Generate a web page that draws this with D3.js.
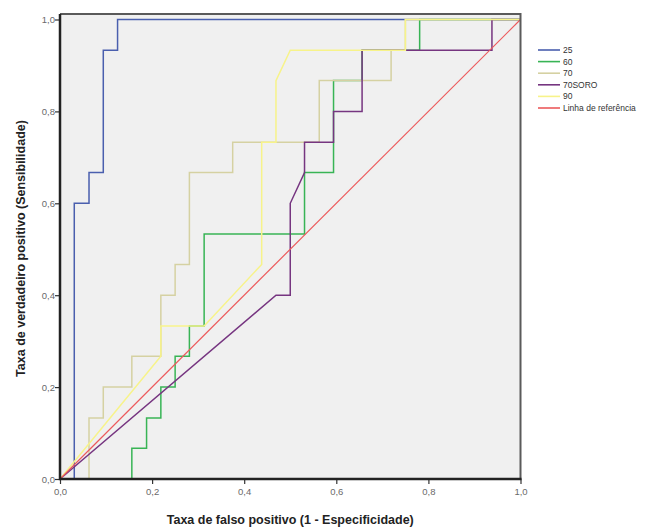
<!DOCTYPE html>
<html>
<head>
<meta charset="utf-8">
<script src="https://cdn.jsdelivr.net/npm/d3@7"></script>
<style>
  html, body { margin: 0; padding: 0; background: #ffffff; }
  svg { display: block; }
</style>
</head>
<body>
<svg id="chart" width="667" height="531"></svg>
<script>
// ROC curves: false positive rate (1 - especificidade) vs true positive rate (sensibilidade)
const seriesNames = ["25", "60", "70", "70SORO", "90", "Linha de referência"];
const seriesColors = ["#4a5fae", "#38b455", "#d5d1a2", "#763580", "#f7f38a", "#ec5a5c"];

const fpr25 = [0, 0.031, 0.031, 0.063, 0.063, 0.094, 0.094, 0.125, 0.125, 1];
const tpr25 = [0, 0, 0.6, 0.6, 0.667, 0.667, 0.933, 0.933, 1, 1];

const fpr60 = [0, 0.156, 0.156, 0.188, 0.188, 0.219, 0.219, 0.25, 0.25, 0.281, 0.281, 0.313, 0.313, 0.531, 0.531, 0.594, 0.594, 0.656, 0.656, 0.781, 0.781, 1];
const tpr60 = [0, 0, 0.067, 0.067, 0.133, 0.133, 0.2, 0.2, 0.267, 0.267, 0.333, 0.333, 0.533, 0.533, 0.667, 0.667, 0.867, 0.867, 0.933, 0.933, 1, 1];

const fpr70 = [0, 0.063, 0.063, 0.094, 0.094, 0.156, 0.156, 0.219, 0.219, 0.25, 0.25, 0.281, 0.281, 0.375, 0.375, 0.563, 0.563, 0.719, 0.719, 0.75, 0.75, 1];
const tpr70 = [0, 0, 0.133, 0.133, 0.2, 0.2, 0.267, 0.267, 0.4, 0.4, 0.467, 0.467, 0.667, 0.667, 0.733, 0.733, 0.867, 0.867, 0.933, 0.933, 1, 1];

const fpr70soro = [0, 0.469, 0.5, 0.5, 0.531, 0.531, 0.594, 0.594, 0.656, 0.656, 0.938, 0.938, 1];
const tpr70soro = [0, 0.4, 0.4, 0.6, 0.667, 0.733, 0.733, 0.8, 0.8, 0.933, 0.933, 1, 1];

const fpr90 = [0, 0.219, 0.219, 0.313, 0.438, 0.438, 0.469, 0.469, 0.5, 0.75, 0.75, 1];
const tpr90 = [0, 0.267, 0.333, 0.333, 0.467, 0.733, 0.733, 0.867, 0.933, 0.933, 1, 1];

const fprRef = [0, 1];
const tprRef = [0, 1];

const tickValues = [0, 0.2, 0.4, 0.6, 0.8, 1.0];
const tickLabels = ["0,0", "0,2", "0,4", "0,6", "0,8", "1,0"];

const xTitle = "Taxa de falso positivo (1 - Especificidade)";
const yTitle = "Taxa de verdadeiro positivo (Sensibilidade)";

const curves = [
  { x: fpr25, y: tpr25 },
  { x: fpr60, y: tpr60 },
  { x: fpr70, y: tpr70 },
  { x: fpr70soro, y: tpr70soro },
  { x: fpr90, y: tpr90 },
  { x: fprRef, y: tprRef }
].map((c, i) => ({
  name: seriesNames[i],
  color: seriesColors[i],
  points: c.x.map((v, j) => [v, c.y[j]])
}));

const svg = d3.select("#chart");

// plot geometry
const x0 = 60, x1 = 520.5, y0 = 479, y1 = 19.5, frameTop = 14;

const x = d3.scaleLinear().domain([0, 1]).range([x0, x1]);
const y = d3.scaleLinear().domain([0, 1]).range([y0, y1]);

// panel background
svg.append("rect")
  .attr("x", x0).attr("y", frameTop)
  .attr("width", x1 - x0).attr("height", y0 - frameTop)
  .attr("fill", "#f0f0f0");

// curves
const line = d3.line().x(d => x(d[0])).y(d => y(d[1]));
svg.append("g").attr("class", "curves")
  .selectAll("path")
  .data(curves)
  .join("path")
  .attr("d", d => line(d.points))
  .attr("fill", "none")
  .attr("stroke", d => d.color)
  .attr("stroke-width", d => d.name === "Linha de referência" ? 1.2 : 1.5)
  .attr("stroke-linejoin", "miter");

// frame: top and right edges
svg.append("path")
  .attr("d", `M${x0},${frameTop}H${x1}V${y0}`)
  .attr("fill", "none")
  .attr("stroke", "#5a5a5a")
  .attr("stroke-width", 2);

// axes
const xAxis = d3.axisBottom(x)
  .tickValues(tickValues)
  .tickFormat((d, i) => tickLabels[i])
  .tickSize(5)
  .tickSizeOuter(0);
const yAxis = d3.axisLeft(y)
  .tickValues(tickValues)
  .tickFormat((d, i) => tickLabels[i])
  .tickSize(5)
  .tickSizeOuter(0);

const gx = svg.append("g").attr("transform", `translate(0,${y0})`).call(xAxis);
const gy = svg.append("g").attr("transform", `translate(${x0},0)`).call(yAxis);

[gx, gy].forEach(g => {
  g.select(".domain").remove();
  g.selectAll(".tick line").attr("stroke", "#333").attr("stroke-width", 1.2);
  g.selectAll(".tick text")
    .attr("fill", "#6a6a6a")
    .style("font-family", "'Liberation Sans', Arial, sans-serif")
    .style("font-size", "9.5px");
});
gx.selectAll(".tick text").attr("dy", "0.95em").attr("y", 7);
gy.selectAll(".tick text").attr("x", -5);

// heavy axis lines on left and bottom
svg.append("path")
  .attr("d", `M${x0},${frameTop}V${y0}H${x1 + 1}`)
  .attr("fill", "none")
  .attr("stroke", "#222")
  .attr("stroke-width", 2.5);

// axis titles
svg.append("text")
  .attr("x", (x0 + x1) / 2)
  .attr("y", 524)
  .attr("text-anchor", "middle")
  .attr("fill", "#222")
  .style("font-family", "'Liberation Sans', Arial, sans-serif")
  .style("font-size", "12.5px")
  .style("font-weight", "bold")
  .text(xTitle);

svg.append("text")
  .attr("transform", `translate(25,${(frameTop + y0) / 2 + 2}) rotate(-90)`)
  .attr("text-anchor", "middle")
  .attr("fill", "#222")
  .style("font-family", "'Liberation Sans', Arial, sans-serif")
  .style("font-size", "12.5px")
  .style("font-weight", "bold")
  .text(yTitle);

// legend
const legend = svg.append("g").attr("transform", "translate(538,50)");
const rows = legend.selectAll("g")
  .data(curves)
  .join("g")
  .attr("transform", (d, i) => `translate(0,${i * 11.6})`);
rows.append("line")
  .attr("x1", 0).attr("x2", 22)
  .attr("stroke", d => d.color)
  .attr("stroke-width", 1.6);
rows.append("text")
  .attr("x", 25)
  .attr("dy", "0.35em")
  .attr("fill", "#333")
  .style("font-family", "'Liberation Sans', Arial, sans-serif")
  .style("font-size", "8.5px")
  .text(d => d.name);
</script>
</body>
</html>
